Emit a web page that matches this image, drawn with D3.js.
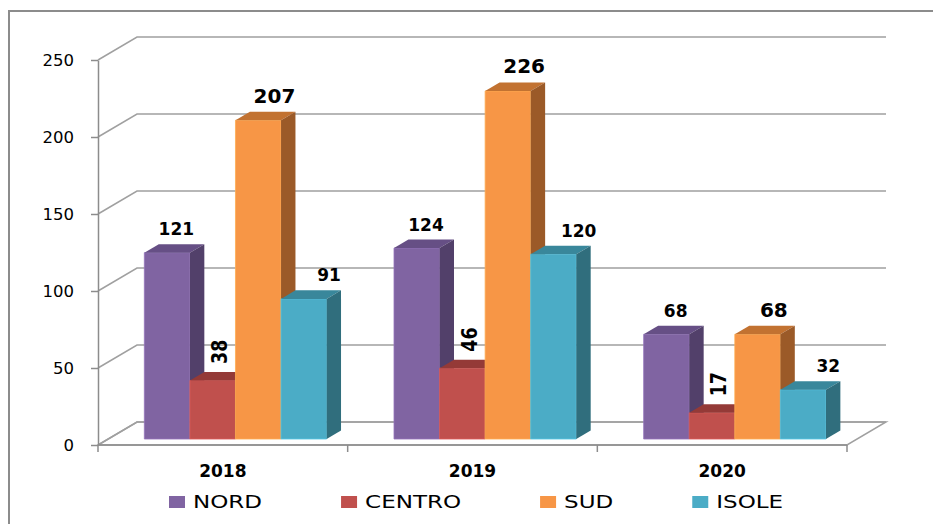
<!DOCTYPE html>
<html>
<head>
<meta charset="utf-8">
<script src="https://cdn.jsdelivr.net/npm/d3@7"></script>
<style>
  body { margin: 0; background: #fff; overflow: hidden; }
  text { font-family: "DejaVu Sans", Verdana, sans-serif; }
</style>
</head>
<body>
<script>
// data
const years = ["2018", "2019", "2020"];
const regions = ["NORD", "CENTRO", "SUD", "ISOLE"];
const nord = [121, 124, 68];
const centro = [38, 46, 17];
const sud = [207, 226, 68];
const isole = [91, 120, 32];
const yTicks = [0, 50, 100, 150, 200, 250];

const values = [nord, centro, sud, isole];

// styles per series
const frontColors = ["#8064A2", "#C0504D", "#F79646", "#4BACC6"];
const topColors = ["#664F85", "#943A37", "#C27231", "#39879B"];
const sideColors = ["#52406A", "#7A2E2C", "#9B5A28", "#306E7D"];
const labelSize = [17, 17.5, 20, 17];
const labelShift = [2, 0, 9, 18];

const width = 933, height = 524;
const DX = 39, DY = 23;         // depth of the wall / floor
const z0 = 0.26, z1 = 0.63;     // bar front / back depth

const svg = d3.select("body").append("svg")
    .attr("width", width)
    .attr("height", height);

// outer border
svg.append("rect")
    .attr("x", 9).attr("y", 11)
    .attr("width", 960).attr("height", 560)
    .attr("fill", "#fff")
    .attr("stroke", "#8c8c8c")
    .attr("stroke-width", 2);

const y = d3.scaleLinear().domain([0, 250]).range([445, 60]);
const x = d3.scaleBand().domain(years).range([98, 847]);
const bw = x.bandwidth();
const inner = d3.scaleBand().domain(regions).range([bw * 0.145, bw * 0.875]);

const gridColor = "#a0a0a0";

// floor
const x0 = x.range()[0], x1 = x.range()[1];
svg.append("path")
    .attr("d", `M${x0},${y(0)} L${x1},${y(0)} L${x1 + DX},${y(0) - DY} L${x0 + DX},${y(0) - DY} Z`)
    .attr("fill", "#fff")
    .attr("stroke", gridColor)
    .attr("stroke-width", 1.5);

// gridlines on the back wall
svg.append("g").selectAll("path").data(yTicks).join("path")
    .attr("d", d => `M${x0},${y(d)} L${x0 + DX},${y(d) - DY} L${x1 + DX},${y(d) - DY}`)
    .attr("fill", "none")
    .attr("stroke", gridColor)
    .attr("stroke-width", 1.5);

// y axis
const yAxis = d3.axisLeft(y).tickValues(yTicks).tickSize(7).tickPadding(17).tickSizeOuter(0);
const gy = svg.append("g")
    .attr("transform", `translate(${x0},0)`)
    .call(yAxis);
gy.select(".domain").attr("stroke", "#8c8c8c").attr("stroke-width", 1.5);
gy.selectAll(".tick line").attr("stroke", "#8c8c8c").attr("stroke-width", 1.5);
gy.selectAll(".tick text")
    .style("font-family", '"DejaVu Sans", sans-serif')
    .style("font-size", "16.5px")
    .attr("fill", "#000");

// x axis ticks at band edges
const edges = years.map(d => x(d)).concat([x1]);
svg.append("g").selectAll("line").data(edges).join("line")
    .attr("x1", d => d).attr("x2", d => d)
    .attr("y1", y(0)).attr("y2", y(0) + 7)
    .attr("stroke", "#8c8c8c")
    .attr("stroke-width", 1.5);
svg.append("line")
    .attr("x1", x0).attr("x2", x1)
    .attr("y1", y(0)).attr("y2", y(0))
    .attr("stroke", "#8c8c8c")
    .attr("stroke-width", 1.5);

svg.append("g").selectAll("text").data(years).join("text")
    .attr("x", d => x(d) + bw / 2)
    .attr("y", 477)
    .attr("text-anchor", "middle")
    .style("font-size", "17px")
    .style("font-weight", "bold")
    .text(d => d);

// bars
const bars = [];
years.forEach((yr, i) => {
    regions.forEach((r, s) => {
        bars.push({year: yr, region: r, s: s, value: values[s][i]});
    });
});

function pt(px, v, z) {
    return [px + z * DX, y(v) - z * DY];
}
function poly(points) {
    return "M" + points.map(p => p.join(",")).join(" L") + " Z";
}

const gBars = svg.append("g");
bars.forEach(d => {
    const l = x(d.year) + inner(d.region);
    const r = l + inner.bandwidth();
    const g = gBars.append("g").attr("class", "box");
    // front
    g.append("path")
        .attr("d", poly([pt(l, 0, z0), pt(r, 0, z0), pt(r, d.value, z0), pt(l, d.value, z0)]))
        .attr("fill", frontColors[d.s])
        .attr("stroke", d3.color(frontColors[d.s]).brighter(0.4))
        .attr("stroke-width", 0.8);
    // top
    g.append("path")
        .attr("d", poly([pt(l, d.value, z0), pt(r, d.value, z0), pt(r, d.value, z1), pt(l, d.value, z1)]))
        .attr("fill", topColors[d.s]);
    // side
    g.append("path")
        .attr("d", poly([pt(r, 0, z0), pt(r, 0, z1), pt(r, d.value, z1), pt(r, d.value, z0)]))
        .attr("fill", sideColors[d.s]);
});

// data labels
const gLabels = svg.append("g");
bars.forEach(d => {
    const l = x(d.year) + inner(d.region);
    const cx = l + inner.bandwidth() / 2 + (z0 + z1) / 2 * DX;
    const top = y(d.value) - z1 * DY;
    if (d.region === "CENTRO") {
        gLabels.append("text")
            .attr("transform", `translate(${cx},${top - 8}) rotate(-90) scale(1,1.2)`)
            .attr("text-anchor", "start")
            .attr("dominant-baseline", "central")
            .style("font-size", labelSize[d.s] + "px")
            .style("font-weight", "bold")
            .text(d.value);
    } else {
        gLabels.append("text")
            .attr("x", cx + labelShift[d.s])
            .attr("y", top - 9)
            .attr("text-anchor", "middle")
            .style("font-size", labelSize[d.s] + "px")
            .style("font-weight", "bold")
            .text(d.value);
    }
});

// legend
const legend = svg.append("g");
let lx = 169;
regions.forEach((r, s) => {
    legend.append("rect")
        .attr("x", lx).attr("y", 496)
        .attr("width", 16).attr("height", 12)
        .attr("fill", frontColors[s]);
    const t = legend.append("text")
        .attr("transform", `translate(${lx + 24},508) scale(1.28,1)`)
        .style("font-size", "18px")
        .text(r);
    const w = t.node().getComputedTextLength() * 1.28;
    lx = lx + 24 + w + 79;
});
</script>
</body>
</html>
